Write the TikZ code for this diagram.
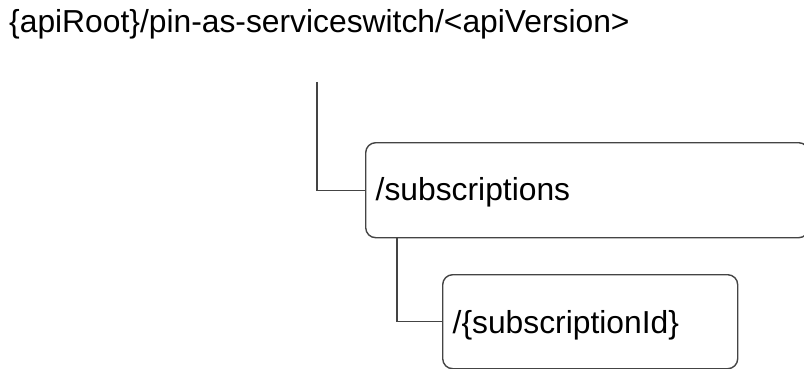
\documentclass[tikz,border=0pt]{standalone}
\usepackage{fontspec}
\setmainfont{Liberation Sans}
\definecolor{linegray}{HTML}{444444}
\begin{document}
\begin{tikzpicture}[x=1pt,y=-1pt,
  font=\fontsize{31.8}{38}\selectfont,
  box/.style={draw=linegray, line width=1.4pt, rounded corners=10pt,
    anchor=north west, inner xsep=10pt, inner ysep=0pt, align=left,
    text height=26pt, text depth=5pt},
  conn/.style={draw=linegray, line width=1.4pt}]
\useasboundingbox (0,0) rectangle (804,369);
\node[anchor=base west, inner sep=0pt] (root) at (9,33)
  {\{apiRoot\}/pin-as-serviceswitch/<apiVersion>};
\node[box, text width=423pt, minimum height=95pt] (sub) at (365,142)
  {/subscriptions};
\node[box, text width=275pt, minimum height=94pt, text height=27pt, text depth=4pt] (sid) at (442,274)
  {/\{subscriptionId\}};
\coordinate (top) at (317,82);
\draw[conn] (top) |- (sub.west);
\draw[conn] ([xshift=32pt]sub.south west) |- (sid.west);
\end{tikzpicture}
\end{document}
